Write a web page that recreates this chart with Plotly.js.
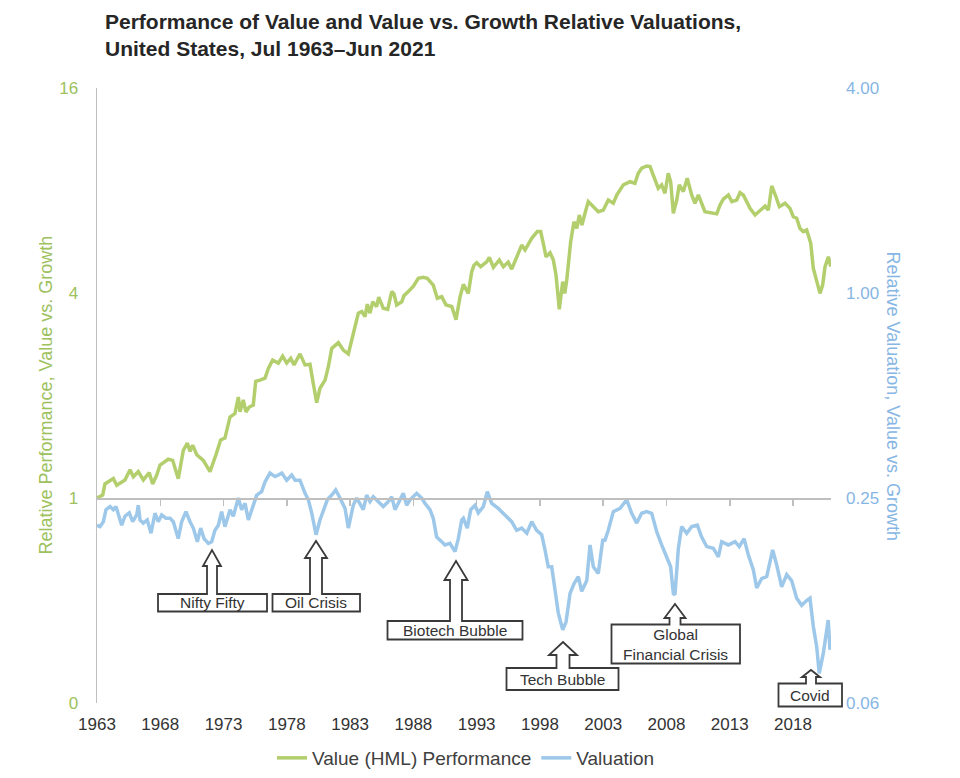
<!DOCTYPE html>
<html><head><meta charset="utf-8">
<script src="https://cdn.plot.ly/plotly-3.0.1.min.js"></script>
<style>html,body{margin:0;padding:0;background:#fff}</style>
</head><body><div id="chart" style="width:960px;height:778px"></div>
<script>
// ---- Data ----
const gYear=[1963.5,1963.95,1964.13,1964.79,1965.06,1965.71,1966.11,1966.37,1966.76,1967.16,
1967.63,1967.9,1968.22,1968.48,1969.13,1969.48,1969.92,1970.32,1970.64,1970.85,
1971.06,1971.38,1971.9,1972.43,1972.9,1973.27,1973.61,1974.01,1974.4,1974.67,
1974.8,1975.06,1975.27,1975.53,1975.85,1976.04,1976.38,1976.78,1977.04,1977.38,
1977.83,1978.17,1978.49,1978.81,1979.07,1979.54,1979.94,1980.33,1980.59,1980.86,
1981.12,1981.52,1981.78,1982.05,1982.57,1982.96,1983.36,1983.49,1983.75,1984.15,
1984.42,1984.68,1984.86,1985.07,1985.29,1985.6,1985.76,1986.12,1986.47,1986.79,
1986.97,1987.18,1987.58,1987.76,1988.1,1988.49,1988.89,1989.28,1989.6,1990.07,
1990.39,1990.74,1991.08,1991.53,1991.87,1992.19,1992.45,1992.84,1993.11,1993.29,
1993.5,1993.82,1994.29,1994.5,1994.82,1995.29,1995.61,1995.99,1996.27,1996.66,
1997.06,1997.32,1997.85,1998.29,1998.56,1998.82,1998.98,1999.3,1999.56,1999.77,
1999.87,2000.03,2000.3,2000.46,2000.62,2000.82,2000.93,2001.19,2001.41,2001.61,
2001.82,2002.06,2002.32,2002.59,2002.85,2003.11,2003.51,2003.9,2004.3,2004.57,
2005.09,2005.62,2006.01,2006.27,2006.54,2006.94,2007.2,2007.51,2007.85,2008.12,
2008.38,2008.64,2008.83,2009.04,2009.31,2009.51,2009.83,2010.14,2010.49,2010.75,
2011.02,2011.54,2011.94,2012.47,2012.73,2012.99,2013.39,2013.66,2014.05,2014.31,
2014.57,2014.84,2015.1,2015.5,2016.02,2016.29,2016.55,2016.82,2017.15,2017.42,
2017.87,2018.26,2018.52,2018.79,2019.05,2019.31,2019.58,2019.9,2020.1,2020.37,
2020.63,2020.84,2021.03,2021.29,2021.48];
const gPerf=[1.00,1.02,1.10,1.14,1.09,1.13,1.21,1.155,1.195,1.13,
1.187,1.10,1.168,1.25,1.30,1.29,1.14,1.38,1.45,1.37,
1.43,1.34,1.29,1.195,1.34,1.48,1.50,1.73,1.77,1.98,
1.79,1.94,1.79,1.85,1.875,2.20,2.22,2.25,2.40,2.54,
2.49,2.61,2.49,2.57,2.46,2.65,2.46,2.47,2.17,1.905,
2.10,2.22,2.43,2.75,2.86,2.72,2.65,2.78,3.08,3.49,
3.53,3.41,3.71,3.49,3.77,3.65,3.89,3.61,3.58,4.04,
3.97,3.69,3.77,3.93,4.04,4.18,4.42,4.45,4.42,4.22,
3.86,3.90,3.69,3.65,3.34,3.90,4.24,3.99,4.62,4.83,
4.91,4.78,4.94,5.09,4.76,5.00,4.78,4.93,4.70,5.06,
5.53,5.35,5.79,6.06,6.06,5.47,5.11,5.25,5.00,4.52,
4.04,3.58,4.32,3.99,4.37,5.35,5.66,6.48,6.19,6.78,
6.33,6.86,7.42,7.25,7.09,6.93,7.01,7.50,7.34,7.76,
8.31,8.49,8.40,8.99,9.30,9.44,9.40,8.78,8.12,8.31,
7.85,8.99,8.49,6.86,7.50,8.31,7.94,8.69,7.76,7.34,
7.76,6.93,6.88,6.83,7.25,7.54,7.76,7.42,7.50,7.88,
7.76,7.42,7.09,6.78,7.04,7.20,7.01,8.25,7.67,7.17,
7.34,7.09,6.70,6.63,6.19,6.06,6.13,5.60,4.73,4.37,
3.99,4.22,4.78,5.11,4.78];

const vYear=[1963.5,1963.74,1964.0,1964.21,1964.53,1964.79,1965.0,1965.26,1965.45,1965.71,
1966.05,1966.32,1966.64,1966.76,1966.9,1967.16,1967.47,1967.77,1968.08,1968.34,
1968.61,1968.95,1969.27,1969.53,1969.92,1970.19,1970.53,1970.85,1971.11,1971.43,
1971.69,1971.96,1972.3,1972.56,1972.82,1973.09,1973.35,1973.61,1974.01,1974.27,
1974.67,1974.93,1975.2,1975.46,1975.72,1976.12,1976.51,1976.78,1977.17,1977.57,
1977.83,1978.1,1978.49,1978.89,1979.15,1979.54,1979.94,1980.2,1980.47,1980.81,
1981.12,1981.38,1981.7,1982.05,1982.36,1982.7,1983.1,1983.36,1983.75,1984.02,
1984.28,1984.54,1984.81,1985.07,1985.33,1985.73,1986.12,1986.52,1986.79,1987.05,
1987.39,1987.7,1987.97,1988.23,1988.76,1989.16,1989.42,1989.81,1990.07,1990.34,
1990.74,1991.0,1991.39,1991.79,1992.05,1992.32,1992.45,1992.76,1993.03,1993.37,
1993.63,1994.03,1994.34,1994.69,1995.21,1995.74,1996.27,1996.66,1997.06,1997.46,
1997.85,1998.24,1998.64,1998.9,1999.16,1999.43,1999.61,1999.95,2000.3,2000.56,
2000.88,2001.19,2001.53,2001.8,2002.2,2002.46,2002.72,2003.11,2003.46,2003.64,
2003.9,2004.04,2004.3,2004.83,2005.36,2005.75,2006.15,2006.54,2006.94,2007.33,
2007.73,2008.12,2008.52,2008.83,2009.04,2009.17,2009.44,2009.7,2010.1,2010.49,
2010.94,2011.28,2011.68,2012.2,2012.6,2012.86,2013.39,2013.92,2014.25,2014.63,
2014.97,2015.36,2015.63,2016.02,2016.42,2016.89,2017.21,2017.6,2018.0,2018.39,
2018.79,2019.18,2019.58,2019.84,2020.1,2020.37,2020.57,2020.89,2021.28,2021.42];
const vVal=[0.208,0.206,0.213,0.231,0.236,0.231,0.236,0.218,0.208,0.221,
0.226,0.213,0.223,0.238,0.2155,0.211,0.2155,0.197,0.2255,0.213,
0.223,0.218,0.218,0.213,0.190,0.213,0.228,0.213,0.204,0.186,
0.204,0.190,0.184,0.186,0.201,0.208,0.228,0.206,0.231,0.221,
0.250,0.231,0.241,0.2155,0.231,0.255,0.261,0.279,0.296,0.289,
0.292,0.296,0.282,0.292,0.282,0.282,0.258,0.247,0.2255,0.195,
0.2155,0.231,0.247,0.255,0.264,0.250,0.233,0.204,0.238,0.250,
0.241,0.231,0.255,0.244,0.252,0.244,0.236,0.244,0.252,0.231,
0.244,0.258,0.238,0.247,0.258,0.250,0.241,0.231,0.218,0.192,
0.186,0.182,0.184,0.174,0.190,0.2155,0.218,0.204,0.231,0.238,
0.226,0.236,0.261,0.241,0.233,0.223,0.213,0.201,0.204,0.197,
0.213,0.201,0.195,0.176,0.157,0.157,0.140,0.115,0.1025,0.108,
0.131,0.140,0.147,0.133,0.143,0.182,0.157,0.150,0.188,0.188,
0.201,0.211,0.228,0.233,0.247,0.2255,0.211,0.2255,0.228,0.2255,
0.199,0.182,0.168,0.157,0.131,0.130,0.178,0.206,0.197,0.206,
0.208,0.192,0.180,0.178,0.168,0.186,0.182,0.186,0.180,0.190,
0.170,0.154,0.136,0.145,0.147,0.176,0.159,0.137,0.149,0.143,
0.127,0.121,0.125,0.127,0.105,0.0915,0.0764,0.0874,0.1095,0.0895];

const tickYears=[1963,1968,1973,1978,1983,1988,1993,1998,2003,2008,2013,2018];
const leftTicks=[0.25,1,4,16];
const leftTickText=['0','1','4','16'];
const rightTicks=[0.0625,0.25,1,4];
const rightTickText=['0.06','0.25','1.00','4.00'];
const seriesNames=['Value (HML) Performance','Valuation'];
const events=['Nifty Fifty','Oil Crisis','Biotech Bubble','Tech Bubble','Global<br>Financial Crisis','Covid'];

// ---- Styling / layout ----
const FONT='"Liberation Sans", Arial, Helvetica, sans-serif';
const GREEN='#B3CF6D', GREEN_T='#9DC15C';
const BLUE='#9DC8EA', BLUE_T='#86B6E3';
const AXIS='#BFBFBF', DARK='#333333';
const L=97,R=831,T=88,B=703;
const PW=R-L, PH=B-T;
const px=x=>(x-L)/PW, py=y=>(B-y)/PH;
const tickPos=tickYears.map(y=>y+0.5);
const xr=[1963.5,2021.5];

// callout geometry (pixels)
const callouts=[
 {bx0:158,by0:594,bx1:267,by1:611.5,tx:212,ty:550,hy:566,sw:5,hw:9},
 {bx0:272.5,by0:594,bx1:360,by1:611.5,tx:316,ty:541,hy:558,sw:6,hw:11},
 {bx0:387.5,by0:621,bx1:522.5,by1:639.5,tx:456,ty:561,hy:580,sw:6,hw:11.5},
 {bx0:506.5,by0:668,bx1:618.5,by1:690,tx:563,ty:642,hy:655,sw:6.5,hw:14},
 {bx0:611.5,by0:624.5,bx1:740,by1:663.5,tx:675,ty:604,hy:618,sw:5.5,hw:10.5},
 {bx0:778.5,by0:683.5,bx1:842,by1:706.5,tx:811,ty:670,hy:677,sw:5,hw:9}
];
const shapes=[], annotations=[];
callouts.forEach((c,i)=>{
  const P=(x,y)=>px(x).toFixed(5)+','+py(y).toFixed(5);
  const d='M'+P(c.bx0,c.by0)+' L'+P(c.tx-c.sw,c.by0)+' L'+P(c.tx-c.sw,c.hy)+' L'+P(c.tx-c.hw,c.hy)+
    ' L'+P(c.tx,c.ty)+' L'+P(c.tx+c.hw,c.hy)+' L'+P(c.tx+c.sw,c.hy)+' L'+P(c.tx+c.sw,c.by0)+
    ' L'+P(c.bx1,c.by0)+' L'+P(c.bx1,c.by1)+' L'+P(c.bx0,c.by1)+' Z';
  shapes.push({type:'path',xref:'paper',yref:'paper',path:d,fillcolor:'#ffffff',
    line:{color:'#3a3a3a',width:1.8},layer:'above'});
  annotations.push({xref:'paper',yref:'paper',x:px((c.bx0+c.bx1)/2),y:py((c.by0+c.by1)/2),
    text:events[i],showarrow:false,xanchor:'center',yanchor:'middle',
    font:{family:FONT,size:15.5,color:DARK}});
});
annotations.push({xref:'paper',yref:'paper',x:px(45),y:0.5,textangle:-90,showarrow:false,
  text:'Relative Performance, Value vs. Growth',font:{family:FONT,size:18,color:GREEN_T},xanchor:'center',yanchor:'middle'});
annotations.push({xref:'paper',yref:'paper',x:px(893),y:0.5,textangle:90,showarrow:false,
  text:'Relative Valuation, Value vs. Growth',font:{family:FONT,size:18,color:BLUE_T},xanchor:'center',yanchor:'middle'});

const traces=[
 {x:gYear,y:gPerf,name:seriesNames[0],type:'scatter',mode:'lines',xaxis:'x',yaxis:'y',
  line:{color:GREEN,width:3.5}},
 {x:vYear,y:vVal,name:seriesNames[1],type:'scatter',mode:'lines',xaxis:'x2',yaxis:'y2',
  line:{color:BLUE,width:3.5}}
];

const layout={
  width:960,height:778,margin:{l:L,r:960-R,t:T,b:778-B},
  paper_bgcolor:'#ffffff',plot_bgcolor:'rgba(0,0,0,0)',
  font:{family:FONT,color:DARK},
  title:{text:'<b>Performance of Value and Value vs. Growth Relative Valuations,<br>United States, Jul 1963\u2013Jun 2021</b>',
    font:{family:FONT,size:21,color:'#262626'},xref:'container',yref:'container',
    x:105/960,xanchor:'left',y:1-29/778,yanchor:'top'},
  showlegend:true,
  legend:{orientation:'h',xref:'container',yref:'container',x:466/960,xanchor:'center',
    y:1-758/778,yanchor:'middle',
    font:{family:FONT,size:19,color:'#404040'},bgcolor:'rgba(0,0,0,0)'},
  xaxis:{range:xr,tickvals:tickPos,ticktext:tickYears.map(String),showline:false,showgrid:false,
    zeroline:false,ticks:'',ticklabelstandoff:9,tickfont:{family:FONT,size:17,color:DARK}},
  xaxis2:{overlaying:'x',anchor:'free',position:1/3,range:xr,showline:true,linecolor:AXIS,linewidth:1.5,
    ticks:'outside',ticklen:6,tickwidth:1.5,tickcolor:AXIS,tickvals:tickPos.slice(1),
    showticklabels:false,showgrid:false,zeroline:false},
  yaxis:{type:'log',range:[Math.log10(0.25),Math.log10(16)],tickvals:leftTicks,ticktext:leftTickText,
    showline:true,linecolor:AXIS,linewidth:1.5,showgrid:false,zeroline:false,ticks:'',
    ticklabelstandoff:14,tickfont:{family:FONT,size:17,color:GREEN_T}},
  yaxis2:{type:'log',overlaying:'y',side:'right',anchor:'x2',range:[Math.log10(0.0625),Math.log10(4)],
    tickvals:rightTicks,ticktext:rightTickText,showline:false,showgrid:false,zeroline:false,ticks:'',
    ticklabelstandoff:14,tickfont:{family:FONT,size:17,color:BLUE_T}},
  shapes:shapes,annotations:annotations
};
Plotly.newPlot('chart',traces,layout,{displayModeBar:false,staticPlot:true});
</script></body></html>
